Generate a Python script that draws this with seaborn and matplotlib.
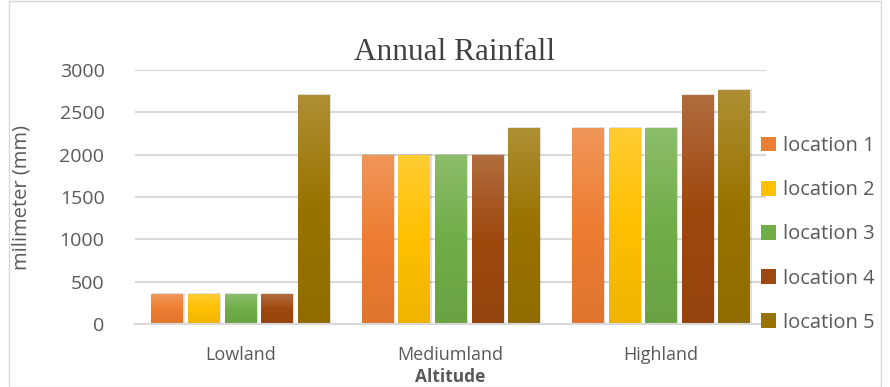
import numpy as np
import pandas as pd
import matplotlib
matplotlib.use("Agg")
import matplotlib.pyplot as plt
import matplotlib.colors as mcolors
from matplotlib.patches import Rectangle, Patch
import seaborn as sns

categories = ["Lowland", "Mediumland", "Highland"]
locations = ["location 1", "location 2", "location 3", "location 4", "location 5"]
location_1 = [350, 2000, 2320]
location_2 = [350, 2000, 2320]
location_3 = [350, 2000, 2320]
location_4 = [350, 2000, 2710]
location_5 = [2710, 2320, 2760]
yticks = [0, 500, 1000, 1500, 2000, 2500, 3000]

colors = ["#ED7D31", "#FFC000", "#70AD47", "#9E480E", "#997300"]

series = [location_1, location_2, location_3, location_4, location_5]
rows = []
for loc, vals in zip(locations, series):
    for cat, v in zip(categories, vals):
        rows.append({"Altitude": cat, "location": loc, "value": v})
df = pd.DataFrame(rows)

sns.set_theme(style="white")
plt.rcParams["font.family"] = ["Open Sans", "DejaVu Sans"]

fig = plt.figure(figsize=(8.9, 3.87), dpi=100)
ax = fig.add_axes([135 / 890, 1 - 324 / 387, (766 - 135) / 890, (324 - 70) / 387])

sns.barplot(data=df, x="Altitude", y="value", hue="location", order=categories,
            hue_order=locations, palette=colors, width=0.87, gap=0.15,
            legend=False, ax=ax, saturation=1, edgecolor="none")

ax.set_xlim(-0.5, 2.5)
ax.set_ylim(0, 3000)
ax.set_yticks(yticks)
ax.yaxis.grid(True, color="#D9D9D9", linewidth=1.5)
ax.set_axisbelow(True)
for s in ["left", "right", "top"]:
    ax.spines[s].set_visible(False)
ax.spines["bottom"].set_color("#D9D9D9")
ax.spines["bottom"].set_linewidth(1.5)
ax.tick_params(axis="both", length=0, colors="#595959")
ax.tick_params(axis="y", labelsize=14, pad=22)
ax.tick_params(axis="x", labelsize=13, pad=16)
ax.set_xlabel("")
ax.set_ylabel("")


def lighten(c, f):
    r = np.array(mcolors.to_rgb(c))
    return tuple(r + (1 - r) * f)


def darken(c, f):
    r = np.array(mcolors.to_rgb(c))
    return tuple(r * (1 - f))


# gradient fill on each bar
for i, container in enumerate(ax.containers):
    base = colors[i]
    cmap = mcolors.LinearSegmentedColormap.from_list(
        "g%d" % i, [(0, darken(base, 0.06)), (0.5, base), (1, lighten(base, 0.2))])
    for bar in container:
        x0, y0 = bar.get_x(), bar.get_y()
        w, h = bar.get_width(), bar.get_height()
        sh = Rectangle((x0 + 0.004, y0), w + 0.006, h + 12, facecolor="#000000",
                       alpha=0.12, edgecolor="none", zorder=1.5)
        ax.add_patch(sh)
        grad = np.linspace(0, 1, 256).reshape(-1, 1)
        im = ax.imshow(grad, cmap=cmap, origin="lower", aspect="auto",
                       extent=[x0, x0 + w, y0, y0 + h], zorder=2.5)
        im.set_clip_path(bar)
ax.set_xlim(-0.5, 2.5)
ax.set_ylim(0, 3000)

fig.text(455 / 890, 1 - 52 / 387, "Annual Rainfall", ha="center", va="center",
         fontsize=22.5, color="#404040", family=["Liberation Serif", "DejaVu Serif"])
fig.text(22 / 890, 1 - 197 / 387, "milimeter (mm)", ha="center", va="center",
         rotation=90, fontsize=14.5, color="#595959")
fig.text(450 / 890, 1 - 377 / 387, "Altitude", ha="center", va="center",
         fontsize=12.5, fontweight="bold", color="#595959")

handles = [Patch(facecolor=c, edgecolor="none") for c in colors]
fig.legend(handles, locations, loc="upper left", bbox_to_anchor=(753 / 890, 1 - 128 / 387),
           frameon=False, fontsize=14.5, labelcolor="#595959", handlelength=0.75,
           handleheight=0.75, handletextpad=0.35, labelspacing=1.2, borderaxespad=0)

fig.patches.append(Rectangle((9 / 890, 0), 1 - 18 / 890, 1 - 1 / 387, transform=fig.transFigure,
                             fill=False, edgecolor="#D9D9D9", linewidth=1))

fig.savefig("out.png", dpi=100)
